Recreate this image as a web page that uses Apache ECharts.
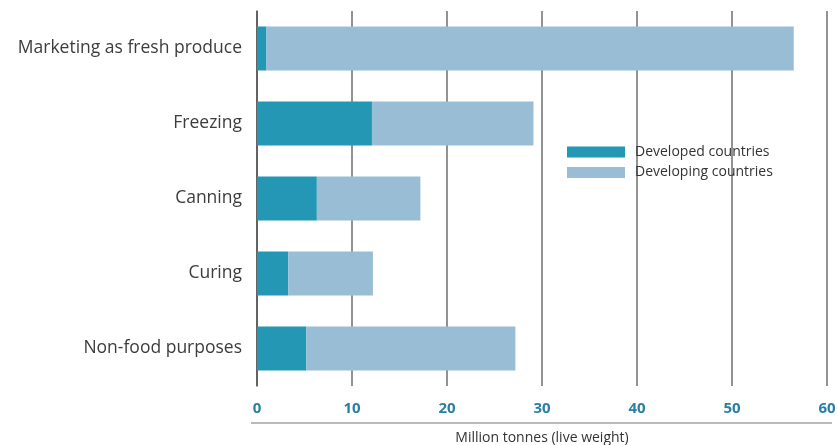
<!DOCTYPE html>
<html>
<head>
<meta charset="utf-8">
<script src="https://cdn.jsdelivr.net/npm/echarts@6/dist/echarts.min.js"></script>
<style>html,body{margin:0;padding:0;background:#fff;}#c{width:838px;height:445px;}</style>
</head>
<body>
<div id="c"></div>
<script>
var categories = ["Marketing as fresh produce", "Freezing", "Canning", "Curing", "Non-food purposes"];
var developed = [1, 12.1, 6.3, 3.3, 5.2];
var developing = [55.5, 17, 10.9, 8.9, 22];
var seriesNames = ["Developed countries", "Developing countries"];
var axisTitle = "Million tonnes (live weight)";

var chart = echarts.init(document.getElementById('c'));
chart.setOption({
  animation: false,
  textStyle: { fontFamily: "Open Sans" },
  grid: { left: 257, right: 11, top: 11, bottom: 59, containLabel: false, outerBoundsMode: 'none' },
  legend: {
    orient: 'vertical', left: 562, top: 140,
    itemWidth: 58, itemHeight: 11, itemGap: 6.5,
    icon: 'rect',
    textStyle: { fontSize: 14, color: '#333', fontFamily: "Open Sans", padding: [0, 0, 0, 5] },
    data: seriesNames
  },
  xAxis: {
    type: 'value', min: 0, max: 60, interval: 10,
    name: axisTitle, nameLocation: 'middle', nameGap: 45,
    nameTextStyle: { fontSize: 14, color: '#333' },
    axisLine: { show: false },
    axisTick: { show: false },
    axisLabel: { margin: 15, fontSize: 15, fontWeight: 'bold', color: '#2a7fa3' },
    splitLine: { show: true, lineStyle: { color: '#6e6e6e', width: 1.5 } }
  },
  yAxis: {
    type: 'category', data: categories, inverse: true,
    axisLine: { show: true, lineStyle: { color: '#555', width: 1.5 } },
    axisTick: { show: false },
    axisLabel: { margin: 15, fontSize: 17.5, color: '#3c3c3c' }
  },
  graphic: [{
    type: 'line', shape: { x1: 251, y1: 423, x2: 832, y2: 423 },
    style: { stroke: '#777', lineWidth: 1.2 }
  }],
  series: [
    { name: seriesNames[0], type: 'bar', stack: 't', data: developed, barWidth: 44, itemStyle: { color: '#2497b4' } },
    { name: seriesNames[1], type: 'bar', stack: 't', data: developing, barWidth: 44, itemStyle: { color: '#98bdd5' } }
  ]
});
</script>
</body>
</html>
